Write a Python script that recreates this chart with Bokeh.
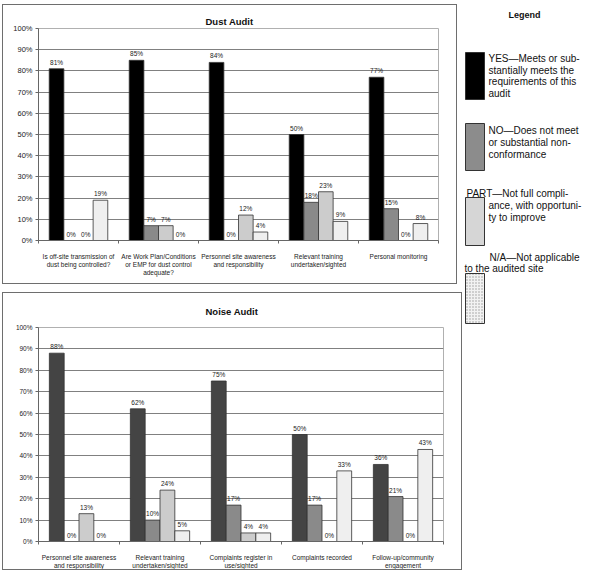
from bokeh.plotting import figure
from bokeh.layouts import column, row
from bokeh.models import Range1d, FixedTicker, ColumnDataSource, Spacer, PrintfTickFormatter
from bokeh.embed import file_html
from bokeh.resources import INLINE
from bokeh.core.properties import value

FONT = "Liberation Sans"

# ---------------- data ----------------
series = ["YES", "NO", "PART", "N/A"]

dust_title = "Dust Audit"
dust_categories = [
    "Is off-site transmission of\ndust being controlled?",
    "Are Work Plan/Conditions\nor EMP for dust control\nadequate?",
    "Personnel site awareness\nand responsibility",
    "Relevant training\nundertaken/sighted",
    "Personal monitoring",
]
dust_yes = [81, 85, 84, 50, 77]
dust_no = [0, 7, 0, 18, 15]
dust_part = [0, 7, 12, 23, 0]
dust_na = [19, 0, 4, 9, 8]

noise_title = "Noise Audit"
noise_categories = [
    "Personnel site awareness\nand responsibility",
    "Relevant training\nundertaken/sighted",
    "Complaints register in\nuse/sighted",
    "Complaints recorded",
    "Follow-up/community\nengagement",
]
noise_yes = [88, 62, 75, 50, 36]
noise_no = [0, 10, 17, 17, 21]
noise_part = [13, 24, 4, 0, 0]
noise_na = [0, 5, 4, 33, 43]

y_ticks = [0, 10, 20, 30, 40, 50, 60, 70, 80, 90, 100]

legend_heading = "Legend"
legend_yes = ["YES\u2014Meets or sub-", "stantially meets the", "requirements of this", "audit"]
legend_no = ["NO\u2014Does not meet", "or substantial non-", "conformance"]
legend_part = ["PART\u2014Not full compli-", "ance, with opportuni-", "ty to improve"]
legend_na = ["N/A\u2014Not applicable", "to the audited site"]

# ---------------- styles ----------------
dust_colors = ["#000000", "#8a8a8a", "#cccccc", "#efefef"]
noise_colors = ["#444444", "#8a8a8a", "#cccccc", "#efefef"]
BW = 0.183


def make_chart(title, cats, values, colors, width, height, left, right, top, bottom,
               tick_px, title_offset, title_pad):
    n = len(cats)
    p = figure(width=width, height=height, output_backend="svg", toolbar_location=None, tools="",
               x_range=Range1d(0, n), y_range=Range1d(0, 100),
               min_border_left=left, min_border_right=right,
               min_border_top=top, min_border_bottom=bottom)
    p.styles = {"border": "1px solid #6e6e6e", "box-sizing": "border-box"}
    p.title.text = title
    p.title.align = "left"
    p.title.offset = title_offset
    p.title.text_font = FONT
    p.title.text_font_size = "9.5px"
    p.title.text_font_style = "bold"
    p.title.text_color = "#111111"
    p.title.standoff = 3
    p.title.padding = title_pad
    p.outline_line_color = "#b0b0b0"
    p.background_fill_color = "white"

    for j, (vals, col) in enumerate(zip(values, colors)):
        xs = [i + 0.5 + (j - 1.5) * BW for i in range(n)]
        src = ColumnDataSource(dict(x=xs, top=vals, label=[f"{v}%" for v in vals]))
        p.vbar(x="x", top="top", bottom=0, width=BW, source=src,
               fill_color=col, line_color="#333333", line_width=0.8)
        p.text(x="x", y="top", text="label", source=src, text_align="center",
               text_baseline="bottom", y_offset=-3, text_font=value(FONT),
               text_font_size="6.5px", text_color="#222222")

    p.xaxis.ticker = FixedTicker(ticks=[i + 0.5 for i in range(n)], minor_ticks=list(range(n + 1)))
    p.xaxis.major_label_overrides = {i + 0.5: c for i, c in enumerate(cats)}
    p.xaxis.major_tick_line_color = None
    p.xaxis.minor_tick_in = 0
    p.xaxis.minor_tick_out = 3
    p.xaxis.minor_tick_line_color = "#666666"
    p.xaxis.axis_line_color = "#666666"
    p.xaxis.major_label_text_font = FONT
    p.xaxis.major_label_text_font_size = "6.5px"
    p.xaxis.major_label_text_color = "#222222"
    p.xaxis.major_label_standoff = 6
    p.xgrid.visible = False

    p.yaxis.ticker = FixedTicker(ticks=y_ticks, minor_ticks=[])
    p.yaxis.formatter = PrintfTickFormatter(format="%d%%")
    p.yaxis.axis_line_color = "#666666"
    p.yaxis.major_tick_line_color = "#666666"
    p.yaxis.major_tick_in = 0
    p.yaxis.major_tick_out = 3
    p.yaxis.minor_tick_line_color = None
    p.yaxis.major_label_text_font = FONT
    p.yaxis.major_label_text_font_size = tick_px
    p.yaxis.major_label_text_color = "#222222"
    p.yaxis.major_label_standoff = 3
    p.ygrid.grid_line_color = "#808080"
    p.ygrid.grid_line_width = 1
    return p


dust = make_chart(dust_title, dust_categories, [dust_yes, dust_no, dust_part, dust_na], dust_colors,
                  455, 280, 34, 10, 23, 45, "7.5px", 167, 0)
noise = make_chart(noise_title, noise_categories, [noise_yes, noise_no, noise_part, noise_na], noise_colors,
                   460, 278, 35, 20, 34, 29, "6.5px", 158, 9)

# ---------------- legend panel ----------------
LW, LH = 122, 330
lg = figure(width=LW, height=LH, output_backend="svg", toolbar_location=None, tools="",
            x_range=Range1d(0, LW), y_range=Range1d(LH, 0), x_axis_type=None, y_axis_type=None,
            min_border=0)
lg.outline_line_color = None
lg.grid.visible = False

lg.text(x=[62], y=[9], text=[legend_heading], text_align="center", text_baseline="middle",
        text_font=value(FONT), text_font_size="9px", text_font_style="bold", text_color="#111111")

sw_left = [3, 3, 3, 3]
sw_right = [22, 22, 22, 22]
sw_top = [47, 118, 192, 268]
sw_bottom = [94, 165, 240, 318]
sw_fill = ["#000000", "#8c8c8c", "#d6d6d6", "#f2f2f2"]
lg.quad(left=sw_left[:3], right=sw_right[:3], top=sw_top[:3], bottom=sw_bottom[:3],
        fill_color=sw_fill[:3], line_color="#333333", line_width=1)
lg.quad(left=sw_left[3:], right=sw_right[3:], top=sw_top[3:], bottom=sw_bottom[3:],
        fill_color=sw_fill[3], line_color="#333333", line_width=1,
        hatch_pattern="dot", hatch_color="#9a9a9a", hatch_scale=3, hatch_weight=0.6)

legend_text_x = [26] * 4 + [26] * 3 + [4, 26, 26] + [27, 2]
legend_text_y = [53, 65, 76, 88] + [125, 137, 149] + [188, 200, 212] + [252, 263]
legend_lines = legend_yes + legend_no + legend_part + legend_na
lg.text(x=legend_text_x, y=legend_text_y, text=legend_lines, text_align="left", text_baseline="middle",
        text_font=value(FONT), text_font_size="10px", text_color="#111111")

charts = column(Spacer(height=4), dust, Spacer(height=8), noise)
legend_col = column(Spacer(height=5), lg)
layout = row(Spacer(width=2), charts, legend_col)

open("out.html", "w").write(file_html(layout, INLINE))
